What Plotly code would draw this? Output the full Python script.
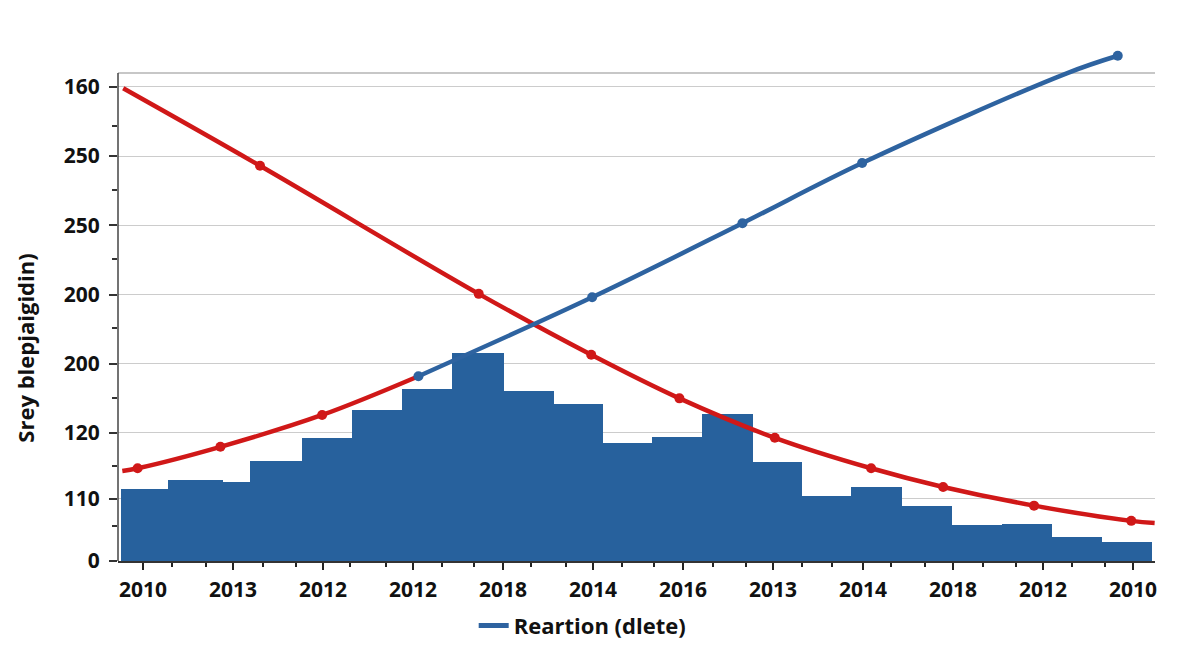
import numpy as np
import plotly.graph_objects as go

# ---------------- data ----------------
x_tick_pos = list(range(12))
x_tick_labels = ["2010", "2013", "2012", "2012", "2018", "2014",
                 "2016", "2013", "2014", "2018", "2012", "2010"]
x_minor_pos = [0.32, 0.7, 1.33, 1.7, 2.3, 2.7, 3.32, 3.68, 4.31, 4.7,
               5.32, 5.68, 6.33, 6.7, 7.32, 7.66, 8.31, 8.69, 9.33, 9.7,
               10.32, 10.69]

y_tick_pos = [0, 90, 185, 285, 385, 485, 585, 685]
y_tick_labels = ["0", "110", "120", "200", "200", "250", "250", "160"]
y_minor_pos = [50, 137, 235, 336, 436, 536, 628]
y_top = 705

bin_edges = [-0.24, 0.28, 0.89, 1.19, 1.77, 2.32, 2.88, 3.43, 4.01, 4.57, 5.11,
             5.66, 6.21, 6.78, 7.32, 7.87, 8.43, 8.99, 9.54, 10.10, 10.66, 11.21]
bin_heights = [104, 117, 114, 145, 178, 218, 249, 301, 246, 227, 171,
               179, 212, 143, 94, 107, 79, 52, 53, 35, 27]

red_fall_x = [-0.22, 1.30, 3.73, 4.98, 5.96, 7.02, 8.09, 8.89, 9.90, 10.98, 11.24]
red_fall_y = [683, 571, 386, 298, 235, 178, 134, 107, 80, 58, 55]
red_fall_marked = [0, 1, 1, 1, 1, 1, 1, 1, 1, 1, 0]

red_rise_x = [-0.23, -0.06, 0.86, 1.99, 3.06]
red_rise_y = [130, 134, 165, 211, 267]
red_rise_marked = [0, 1, 1, 1, 0]

blue_x = [3.06, 4.99, 6.66, 7.99, 10.27, 10.83]
blue_y = [267, 381, 488, 575, 705, 730]
blue_marked = [1, 1, 1, 1, 0, 1]

legend_label = "Reartion (dlete)"
y_title = "Srey blepjaigidin)"

# ---------------- styles ----------------
BAR = "#27619d"
RED = "#d01818"
BLUE = "#2e63a0"
FONT = "Open Sans"
TXT = "#111111"

edges = np.array(bin_edges)
centers = (edges[:-1] + edges[1:]) / 2
widths = edges[1:] - edges[:-1]

fig = go.Figure()
fig.add_trace(go.Bar(x=centers, y=bin_heights, width=widths,
                     marker=dict(color=BAR, line=dict(width=0)),
                     showlegend=False, hoverinfo="skip"))


def curve(xs, ys, marked, color):
    sizes = [10 if m else 0 for m in marked]
    return go.Scatter(x=xs, y=ys, mode="lines+markers",
                      line=dict(color=color, width=4.5, shape="spline", smoothing=1.0),
                      marker=dict(color=color, size=sizes, opacity=1, line=dict(width=0)),
                      showlegend=False, cliponaxis=False)


fig.add_trace(curve(red_fall_x, red_fall_y, red_fall_marked, RED))
fig.add_trace(curve(red_rise_x, red_rise_y, red_rise_marked, RED))
fig.add_trace(curve(blue_x, blue_y, blue_marked, BLUE))
# legend entry (line only)
fig.add_trace(go.Scatter(x=[None], y=[None], mode="lines", name=legend_label,
                         line=dict(color=BLUE, width=5), showlegend=True))

fig.update_layout(
    width=1200, height=654,
    margin=dict(l=110, r=53, t=27, b=101),
    paper_bgcolor="white", plot_bgcolor="white",
    bargap=0,
    font=dict(family=FONT, size=20, color=TXT),
    showlegend=True,
    legend=dict(orientation="h", x=0.343, xanchor="left", y=-0.123, yanchor="middle",
                font=dict(family=FONT, size=22, color=TXT, weight="bold"),
                bgcolor="rgba(0,0,0,0)"),
    shapes=[
        dict(type="line", xref="paper", yref="y", x0=0, x1=1, y0=y_top, y1=y_top,
             line=dict(color="#b5b5b5", width=1.5), layer="below"),
        dict(type="line", xref="paper", yref="y", x0=0, x1=0, y0=0, y1=y_top,
             line=dict(color="#444444", width=1.5), layer="above"),
    ],
    annotations=[
        dict(text=y_title, xref="paper", yref="paper", x=-0.0900, y=0.405,
             textangle=-90, showarrow=False, xanchor="center", yanchor="middle",
             font=dict(family=FONT, size=22, color=TXT, weight="bold")),
    ],
)

fig.update_xaxes(
    range=[-0.278, 11.244],
    tickmode="array", tickvals=x_tick_pos, ticktext=x_tick_labels,
    ticks="outside", ticklen=7, tickwidth=2, tickcolor="#222222",
    ticklabelstandoff=2,
    tickfont=dict(family=FONT, size=21, color=TXT, weight="bold"),
    showline=True, linecolor="#333333", linewidth=2,
    showgrid=False, zeroline=False,
    minor=dict(tickmode="array", tickvals=x_minor_pos, ticks="outside",
               ticklen=4, tickwidth=1.5, tickcolor="#222222", showgrid=False),
)

fig.update_yaxes(
    range=[0, 760],
    tickmode="array", tickvals=y_tick_pos, ticktext=y_tick_labels,
    ticks="outside", ticklen=8, tickwidth=1.5, tickcolor="#333333",
    ticklabelstandoff=5,
    tickfont=dict(family=FONT, size=21, color=TXT, weight="bold"),
    showline=False, showgrid=True, gridcolor="#cccccc", gridwidth=1,
    zeroline=False,
    minor=dict(tickmode="array", tickvals=y_minor_pos, ticks="outside",
               ticklen=5, tickwidth=1.5, tickcolor="#333333", showgrid=False),
)

fig.write_html("out.html")
